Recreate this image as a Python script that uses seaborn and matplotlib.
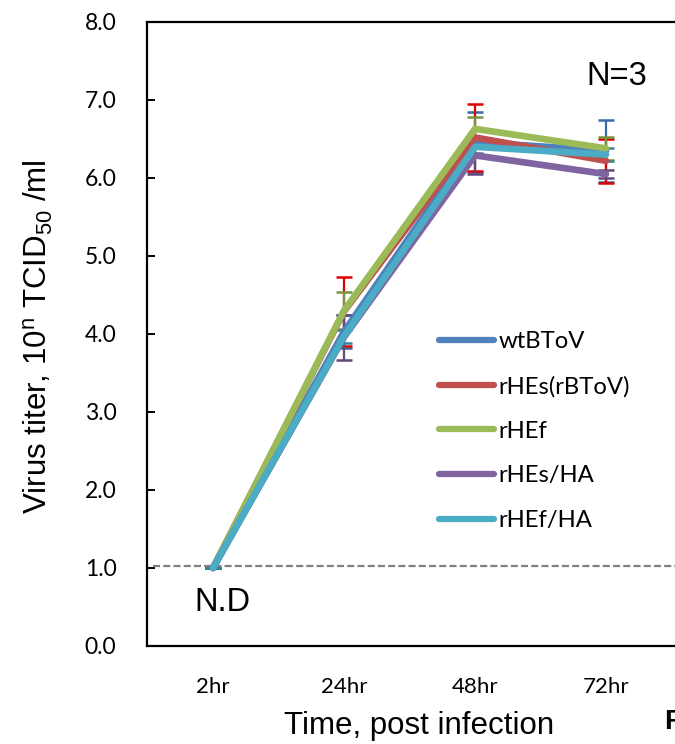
import numpy as np
import pandas as pd
import matplotlib
matplotlib.use("Agg")
import matplotlib.pyplot as plt
import seaborn as sns

# ---------------- dados ----------------
tempos = ["2hr", "24hr", "48hr", "72hr"]
cepas = ["wtBToV", "rHEs(rBToV)", "rHEf", "rHEs/HA", "rHEf/HA"]

titulo_wt = [1.0, 4.03, 6.46, 6.35]
titulo_rhes = [1.0, 4.29, 6.52, 6.22]
titulo_rhef = [1.0, 4.30, 6.63, 6.38]
titulo_rhes_ha = [1.0, 3.96, 6.29, 6.05]
titulo_rhef_ha = [1.0, 3.97, 6.40, 6.30]

erro_wt = [0.0, 0.21, 0.38, 0.40]
erro_rhes = [0.0, 0.44, 0.43, 0.28]
erro_rhef = [0.0, 0.24, 0.15, 0.145]
erro_rhes_ha = [0.0, 0.29, 0.24, 0.05]
erro_rhef_ha = [0.0, 0.08, 0.08, 0.08]

limite_deteccao = 1.03

cores_linha = ["#4F81BD", "#C0504D", "#9BBB59", "#8064A2", "#4BACC6"]
cores_erro = ["#3A6AA8", "#E00000", "#77933C", "#604A7B", "#31859C"]
# ----------------------------------------

titulos = [titulo_wt, titulo_rhes, titulo_rhef, titulo_rhes_ha, titulo_rhef_ha]
erros = [erro_wt, erro_rhes, erro_rhef, erro_rhes_ha, erro_rhef_ha]

df = pd.DataFrame({
    "tempo": np.tile(np.arange(len(tempos)), len(cepas)),
    "cepa": np.repeat(cepas, len(tempos)),
    "titulo": np.concatenate(titulos),
})

sns.set_style("white")
plt.rcParams["font.family"] = ["Liberation Sans", "DejaVu Sans"]
plt.rcParams["mathtext.default"] = "regular"
plt.rcParams["text.color"] = "black"
plt.rcParams["xtick.color"] = "black"
plt.rcParams["ytick.color"] = "black"

fig = plt.figure(figsize=(6.75, 7.44), dpi=100)
W, H = 675, 744
ax = fig.add_axes([147 / W, 1 - 646 / H, (680 - 147) / W, (646 - 22) / H])

# barras de erro (atras das linhas)
for i, cepa in enumerate(cepas):
    ax.errorbar(np.arange(len(tempos)), titulos[i], yerr=erros[i], fmt="none",
                ecolor=cores_erro[i], elinewidth=1.6, capsize=6, capthick=1.8,
                zorder=2)

sns.lineplot(data=df, x="tempo", y="titulo", hue="cepa", hue_order=cepas,
             palette=cores_linha, sort=False, linewidth=4.8, ax=ax,
             zorder=3, solid_capstyle="round", solid_joinstyle="round")

ax.axhline(limite_deteccao, xmin=(-0.458 + 0.504) / (3.565 + 0.504), color="#808080",
           linewidth=1.6, dashes=(3.2, 1.4), zorder=1)

ax.set_xlim(-0.504, 3.565)
ax.set_ylim(0, 8)
ax.set_xticks(np.arange(len(tempos)))
ax.set_xticklabels(tempos, fontfamily="Lato", fontsize=16)
ax.set_yticks(np.arange(0, 9, 1))
ax.set_yticklabels([f"{v:.1f}" for v in range(9)], fontfamily="Lato", fontsize=16.5)
ax.tick_params(axis="x", length=0, pad=22)
ax.tick_params(axis="y", direction="in", length=6, width=1.4, pad=22, left=True)
ax.set_xlabel("")
ax.set_ylabel("")
for lado in ["left", "bottom", "top", "right"]:
    ax.spines[lado].set_color("black")
    ax.spines[lado].set_linewidth(1.6)

leg = ax.legend(loc="upper left", bbox_to_anchor=(439 / W, 1 - 331 / H),
                bbox_transform=fig.transFigure, frameon=False, borderpad=0,
                borderaxespad=0, handlelength=2.3, handletextpad=0.2,
                labelspacing=0.99, prop={"family": "Lato", "size": 17.2})
for linha in leg.get_lines():
    linha.set_linewidth(4.5)
    linha.set_solid_capstyle("round")

ax.text(2.85, 7.3, "N=3", fontsize=23.5, ha="left", va="center")
ax.text(-0.14, 0.56, "N.D", fontsize=23.5, ha="left", va="center")

fig.text(38 / W, 1 - 337 / H, r"Virus titer, 10$^{n}$ TCID$_{50}$ /ml",
         rotation=90, ha="center", va="center", fontsize=22.5)
fig.text(419 / W, 1 - 726 / H, "Time, post infection", ha="center", va="center",
         fontsize=22.5)
fig.text(664 / W, 1 - 722 / H, "F", ha="left", va="center", fontsize=20,
         fontweight="bold")

fig.savefig("out.png", dpi=100)
